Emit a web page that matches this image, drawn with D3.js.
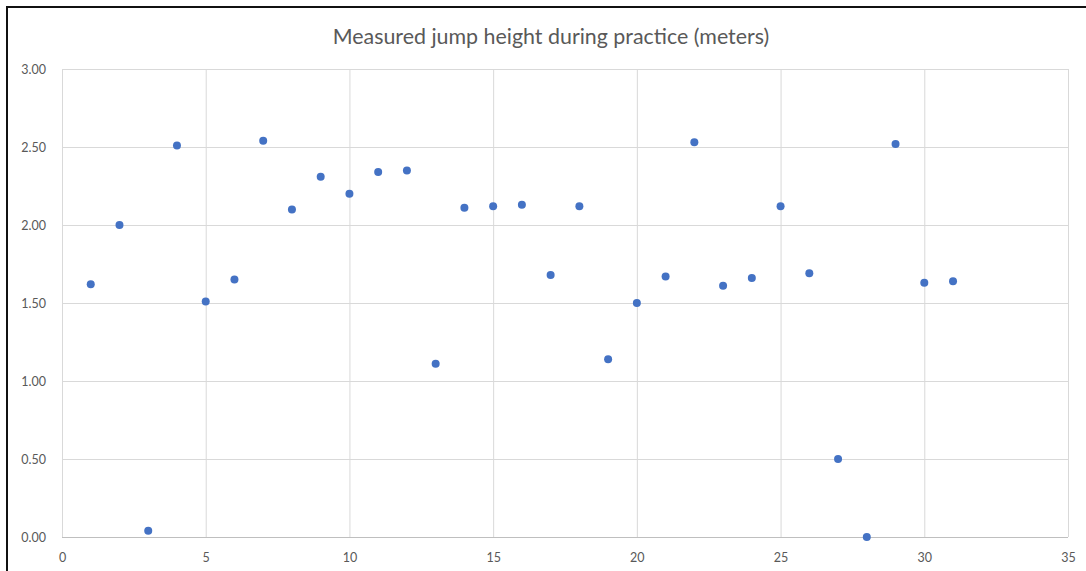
<!DOCTYPE html>
<html>
<head>
<meta charset="utf-8">
<script src="https://cdn.jsdelivr.net/npm/d3@7"></script>
<style>
  html, body { margin: 0; padding: 0; background: #fff; }
  svg { display: block; }
</style>
</head>
<body>
<div id="chart"></div>
<script>
// data
const title = "Measured jump height during practice (meters)";
const practice = [1, 2, 3, 4, 5, 6, 7, 8, 9, 10, 11, 12, 13, 14, 15, 16,
                  17, 18, 19, 20, 21, 22, 23, 24, 25, 26, 27, 28, 29, 30, 31];
const jumpHeight = [1.62, 2.00, 0.04, 2.51, 1.51, 1.65, 2.54, 2.10, 2.31, 2.20, 2.34,
                    2.35, 1.11, 2.11, 2.12, 2.13, 1.68, 2.12, 1.14, 1.50, 1.67, 2.53,
                    1.61, 1.66, 2.12, 1.69, 0.50, 0.00, 2.52, 1.63, 1.64];
const xTicks = [0, 5, 10, 15, 20, 25, 30, 35];
const yTicks = [0, 0.5, 1, 1.5, 2, 2.5, 3];

drawChart();

function drawChart() {
  const width = 1086;
  const height = 571;
  const margin = { top: 69, right: 18, bottom: 34, left: 62 };

  const svg = d3.select("#chart").append("svg")
    .attr("width", width)
    .attr("height", height);

  // outer frame (only top and left are visible in the crop)
  svg.append("rect")
    .attr("x", 7).attr("y", 7)
    .attr("width", width + 20).attr("height", height + 20)
    .attr("fill", "none")
    .attr("stroke", "#111")
    .attr("stroke-width", 2);

  const x = d3.scaleLinear().domain([0, 35]).range([margin.left, width - margin.right]);
  const y = d3.scaleLinear().domain([0, 3]).range([height - margin.bottom, margin.top]);

  // gridlines
  svg.append("g")
    .selectAll("line.v")
    .data(xTicks)
    .join("line")
    .attr("x1", d => x(d) + 0.5).attr("x2", d => x(d) + 0.5)
    .attr("y1", y(3)).attr("y2", y(0))
    .attr("stroke", "#d9d9d9");

  svg.append("g")
    .selectAll("line.h")
    .data(yTicks)
    .join("line")
    .attr("x1", x(0)).attr("x2", x(35))
    .attr("y1", d => y(d) + 0.5).attr("y2", d => y(d) + 0.5)
    .attr("stroke", d => d === 0 ? "#bfbfbf" : "#d9d9d9");

  // axes, tick labels only
  const xAxis = svg.append("g")
    .attr("transform", "translate(0," + y(0) + ")")
    .call(d3.axisBottom(x).tickValues(xTicks).tickSize(0).tickPadding(16).tickFormat(d3.format("d")));

  const yAxis = svg.append("g")
    .attr("transform", "translate(" + x(0) + ",0)")
    .call(d3.axisLeft(y).tickValues(yTicks).tickSize(0).tickPadding(16).tickFormat(d3.format(".2f")));

  [xAxis, yAxis].forEach(function(g) {
    g.select(".domain").remove();
    g.selectAll("text")
      .attr("fill", "#595959")
      .style("font-family", "Lato, 'Open Sans', sans-serif")
      .style("font-size", "12.5px");
  });

  // points
  svg.append("g")
    .selectAll("circle")
    .data(practice)
    .join("circle")
    .attr("cx", (d, i) => x(d))
    .attr("cy", (d, i) => y(jumpHeight[i]))
    .attr("r", 4)
    .attr("fill", "#4472c4");

  svg.append("text")
    .attr("x", 551)
    .attr("y", 44)
    .attr("text-anchor", "middle")
    .attr("fill", "#595959")
    .style("font-family", "Lato, 'Open Sans', sans-serif")
    .style("font-size", "21.4px")
    .text(title);
}
</script>
</body>
</html>
